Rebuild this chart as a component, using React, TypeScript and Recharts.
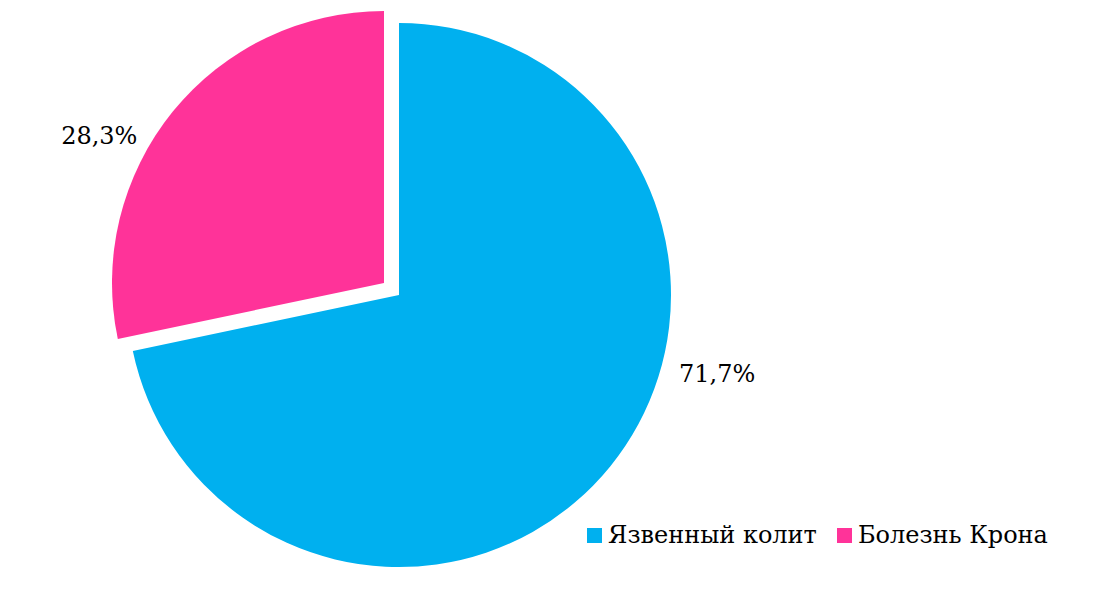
import { PieChart, Pie, Cell, Legend } from 'recharts'

const categories = ['Язвенный колит', 'Болезнь Крона']
const shares = [71.7, 28.3]
const colors = ['#00B0EF', '#FF3399']

const data = categories.map((name, i) => ({ name, value: shares[i] }))

const RAD = Math.PI / 180
const serif = "'DejaVu Serif', serif"

// Excel-like placement of the data labels next to each slice
const labelShift = [23.3, 8.3]
const labelGap = [19, 15]

function makeLabel(visible: number) {
  return (props: any) => {
    const { cx, cy, midAngle, outerRadius, index, percent } = props
    if (index !== visible) return null
    const a = (midAngle + labelShift[index]) * RAD
    const r = outerRadius + labelGap[index]
    const x = cx + r * Math.cos(a)
    const y = cy - r * Math.sin(a)
    const text = (percent * 100).toFixed(1).replace('.', ',') + '%'
    return (
      <text
        x={x}
        y={y}
        fill="#000"
        style={{ fontFamily: serif, fontSize: 24 }}
        textAnchor={x > cx ? 'start' : 'end'}
        dominantBaseline="central"
      >
        {text}
      </text>
    )
  }
}

function LegendBox() {
  return (
    <div style={{ display: 'flex', fontFamily: serif, fontSize: 24, color: '#000' }}>
      {categories.map((c, i) => (
        <div key={c} style={{ display: 'flex', alignItems: 'center', marginRight: 20 }}>
          <span
            style={{
              display: 'inline-block',
              width: 15,
              height: 15,
              background: colors[i],
              marginRight: 6,
            }}
          />
          {c}
        </div>
      ))}
    </div>
  )
}

export default function App() {
  return (
    <div style={{ position: 'absolute', left: 0, top: 0, background: '#fff' }}>
      <PieChart width={1096} height={591}>
        {/* main slice */}
        <Pie
          data={data}
          dataKey="value"
          cx={394}
          cy={290}
          outerRadius={272}
          startAngle={90}
          endAngle={-270}
          stroke="none"
          label={makeLabel(0)}
          labelLine={false}
          isAnimationActive={false}
        >
          {data.map((d, i) => (
            <Cell key={d.name} fill={i === 0 ? colors[i] : 'transparent'} />
          ))}
        </Pie>
        {/* exploded slice */}
        <Pie
          data={data}
          dataKey="value"
          cx={379}
          cy={278}
          outerRadius={272}
          startAngle={90}
          endAngle={-270}
          stroke="none"
          label={makeLabel(1)}
          labelLine={false}
          isAnimationActive={false}
        >
          {data.map((d, i) => (
            <Cell key={d.name} fill={i === 1 ? colors[i] : 'transparent'} />
          ))}
        </Pie>
        <Legend
          content={() => <LegendBox />}
          wrapperStyle={{ left: 587, top: 521, width: 509 }}
        />
      </PieChart>
    </div>
  )
}
